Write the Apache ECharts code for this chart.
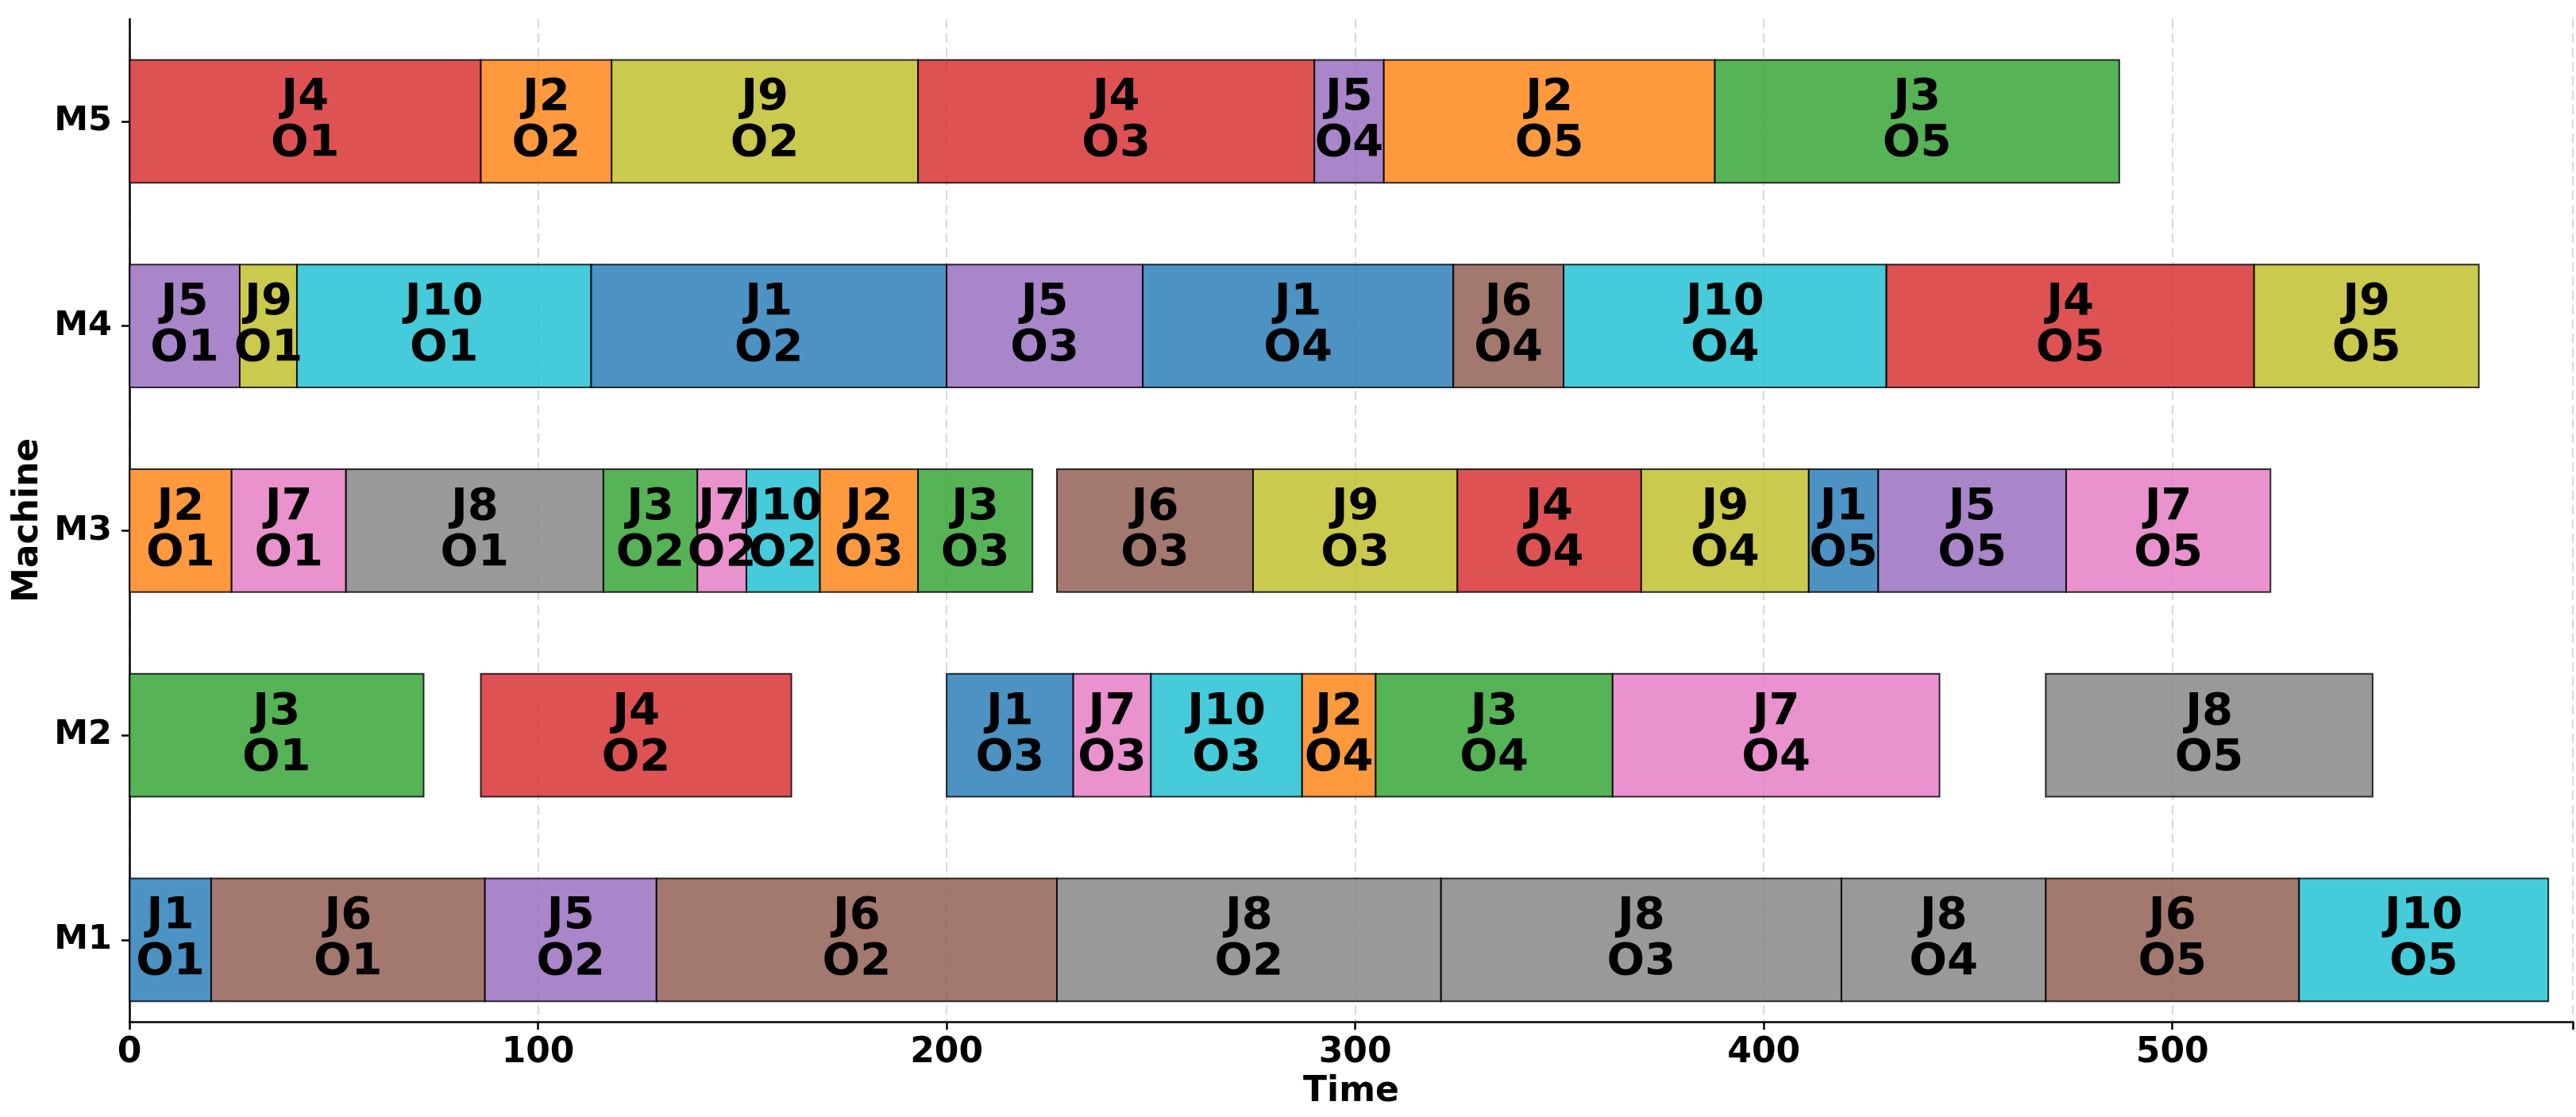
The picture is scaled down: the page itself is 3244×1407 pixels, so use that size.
<!DOCTYPE html>
<html>
<head>
<meta charset="utf-8">
<script src="https://cdn.jsdelivr.net/npm/echarts@6/dist/echarts.min.js"></script>
<style>
  html, body { margin: 0; padding: 0; background: #fff; }
  #chart { width: 3244px; height: 1407px; }
</style>
</head>
<body>
<div id="chart"></div>
<script>
// machines from bottom to top
const machines = ['M1', 'M2', 'M3', 'M4', 'M5'];
const jobs = ['J1', 'J2', 'J3', 'J4', 'J5', 'J6', 'J7', 'J8', 'J9', 'J10'];
const jobColors = ['#1f77b4', '#ff7f0e', '#2ca02c', '#d62728', '#9467bd',
                   '#8c564b', '#e377c2', '#7f7f7f', '#bcbd22', '#17becf'];
const timeTicks = [0, 100, 200, 300, 400, 500];

// [job, operation, start, end]
const m1 = [['J1','O1',0,20], ['J6','O1',20,87], ['J5','O2',87,129], ['J6','O2',129,227],
            ['J8','O2',227,321], ['J8','O3',321,419], ['J8','O4',419,469], ['J6','O5',469,531],
            ['J10','O5',531,592]];
const m2 = [['J3','O1',0,72], ['J4','O2',86,162], ['J1','O3',200,231], ['J7','O3',231,250],
            ['J10','O3',250,287], ['J2','O4',287,305], ['J3','O4',305,363], ['J7','O4',363,443],
            ['J8','O5',469,549]];
const m3 = [['J2','O1',0,25], ['J7','O1',25,53], ['J8','O1',53,116], ['J3','O2',116,139],
            ['J7','O2',139,151], ['J10','O2',151,169], ['J2','O3',169,193], ['J3','O3',193,221],
            ['J6','O3',227,275], ['J9','O3',275,325], ['J4','O4',325,370], ['J9','O4',370,411],
            ['J1','O5',411,428], ['J5','O5',428,474], ['J7','O5',474,524]];
const m4 = [['J5','O1',0,27], ['J9','O1',27,41], ['J10','O1',41,113], ['J1','O2',113,200],
            ['J5','O3',200,248], ['J1','O4',248,324], ['J6','O4',324,351], ['J10','O4',351,430],
            ['J4','O5',430,520], ['J9','O5',520,575]];
const m5 = [['J4','O1',0,86], ['J2','O2',86,118], ['J9','O2',118,193], ['J4','O3',193,290],
            ['J5','O4',290,307], ['J2','O5',307,388], ['J3','O5',388,487]];

const schedule = [m1, m2, m3, m4, m5];

let chartData = [];
schedule.forEach((ops, mi) => {
    ops.forEach(o => {
        chartData.push({
            value: [mi, o[2], o[3], o[0], o[1]],
            itemStyle: { color: jobColors[jobs.indexOf(o[0])] }
        });
    });
});

const FONT = 'DejaVu Sans';
let myChart = echarts.init(document.getElementById('chart'), null, { renderer: 'canvas' });

function renderItem(params, api) {
    let y = api.value(0);
    let p0 = api.coord([api.value(1), y]);
    let p1 = api.coord([api.value(2), y]);
    let h = api.size([0, 0.6])[1];
    return {
        type: 'group',
        children: [
            {
                type: 'rect',
                shape: { x: p0[0], y: p0[1] - h / 2, width: p1[0] - p0[0], height: h },
                style: { fill: api.visual('color'), stroke: '#000', lineWidth: 2, opacity: 0.8 }
            },
            {
                type: 'text',
                style: {
                    x: (p0[0] + p1[0]) / 2,
                    y: p0[1],
                    text: api.value(3) + '\n' + api.value(4),
                    fill: '#000',
                    font: 'bold 56px "' + FONT + '"',
                    lineHeight: 58,
                    align: 'center',
                    verticalAlign: 'middle'
                },
                z2: 10
            }
        ]
    };
}

myChart.setOption({
    animation: false,
    backgroundColor: '#fff',
    grid: { left: 163, right: 4, top: 24, bottom: 120 },
    xAxis: {
        type: 'value',
        min: 0,
        max: 598,
        interval: 100,
        name: 'Time',
        nameLocation: 'middle',
        nameGap: 66,
        nameTextStyle: { fontFamily: FONT, fontWeight: 'bold', fontSize: 44, color: '#000' },
        axisLine: { show: true, onZero: false, lineStyle: { color: '#000', width: 2.5 } },
        axisTick: { show: true, length: 10, lineStyle: { color: '#000', width: 2.5 } },
        axisLabel: {
            margin: 18,
            fontFamily: FONT, fontWeight: 'bold', fontSize: 44, color: '#000',
            customValues: timeTicks
        },
        splitLine: { show: true, lineStyle: { color: '#d9d9d9', width: 2, type: [12, 6] } }
    },
    yAxis: {
        type: 'value',
        min: -0.4,
        max: 4.5,
        name: 'Machine',
        nameLocation: 'middle',
        nameGap: 97,
        nameTextStyle: { fontFamily: FONT, fontWeight: 'bold', fontSize: 44, color: '#000' },
        axisLine: { show: true, onZero: false, lineStyle: { color: '#000', width: 2.5 } },
        axisTick: { show: true, length: 10, lineStyle: { color: '#000', width: 2.5 },
                    customValues: [0, 1, 2, 3, 4] },
        axisLabel: {
            margin: 22,
            fontFamily: FONT, fontWeight: 'bold', fontSize: 43, color: '#000',
            customValues: [0, 1, 2, 3, 4],
            formatter: v => machines[Math.round(v)]
        },
        splitLine: { show: false }
    },
    series: [{
        type: 'custom',
        renderItem: renderItem,
        encode: { x: [1, 2], y: 0 },
        clip: false,
        data: chartData
    }]
});
</script>
</body>
</html>
